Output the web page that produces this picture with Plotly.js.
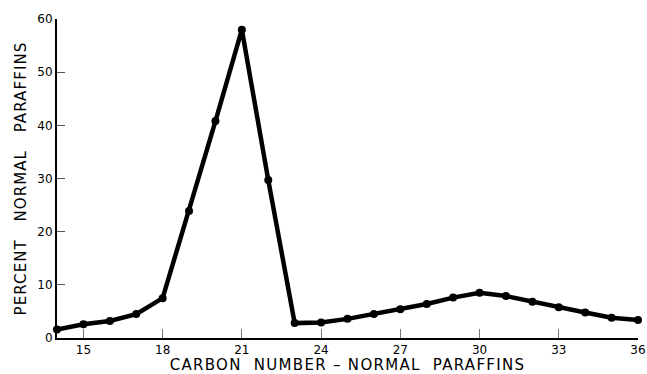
<!DOCTYPE html>
<html>
<head>
<meta charset="utf-8">
<script src="https://cdn.plot.ly/plotly-3.0.1.min.js"></script>
<style>
html,body{margin:0;padding:0;background:#fff;}
#chart{width:647px;height:374px;}
#chart .xtitle{letter-spacing:1.3px;}
#chart .ytitle{letter-spacing:1.1px;}
</style>
</head>
<body>
<div id="chart"></div>
<script>
const carbonNumber = [14,15,16,17,18,19,20,21,22,23,24,25,26,27,28,29,30,31,32,33,34,35,36];
const percentNormal = [1.6,2.6,3.2,4.5,7.5,23.9,40.8,58.0,29.7,2.8,2.9,3.6,4.5,5.4,6.4,7.6,8.5,7.9,6.8,5.8,4.8,3.8,3.4];
const xTicks = [15,18,21,24,27,30,33,36];
const yTicks = [0,10,20,30,40,50,60];
const sp = '\u00a0';
const xTitle = ['CARBON','NUMBER' + sp + '–' + sp + 'NORMAL','PARAFFINS'].join(sp + sp);
const yTitle = ['PERCENT','NORMAL','PARAFFINS'].join(sp + sp + sp);

const trace = {
  x: carbonNumber, y: percentNormal, type: 'scatter', mode: 'lines+markers',
  line: {color: '#000', width: 4.5},
  marker: {color: '#000', size: 8},
  cliponaxis: false, hoverinfo: 'skip'
};
const font = {family: 'DejaVu Sans, sans-serif', color: '#000'};
const layout = {
  width: 647, height: 374,
  margin: {l: 57, r: 9, t: 19, b: 36},
  paper_bgcolor: '#fff', plot_bgcolor: '#fff',
  showlegend: false,
  font: font,
  xaxis: {
    range: [14, 36], tickvals: xTicks, ticktext: xTicks.map(String),
    ticks: 'inside', ticklen: 9, tickcolor: '#777', tickwidth: 1,
    showline: true, linecolor: '#000', linewidth: 2, showgrid: false, zeroline: false,
    tickfont: {family: font.family, size: 12, color: '#000'},
    title: {text: xTitle, font: {family: font.family, size: 15, color: '#000'}, standoff: 4}
  },
  yaxis: {
    range: [0, 60], tickvals: yTicks, ticktext: yTicks.map(String),
    ticks: 'inside', ticklen: 8, tickcolor: '#555', tickwidth: 1,
    showline: true, linecolor: '#000', linewidth: 2, showgrid: false, zeroline: false,
    tickfont: {family: font.family, size: 12, color: '#000'},
    title: {text: yTitle, font: {family: font.family, size: 15, color: '#000'}, standoff: 7}
  }
};
Plotly.newPlot('chart', [trace], layout, {staticPlot: true, displayModeBar: false});
</script>
</body>
</html>
